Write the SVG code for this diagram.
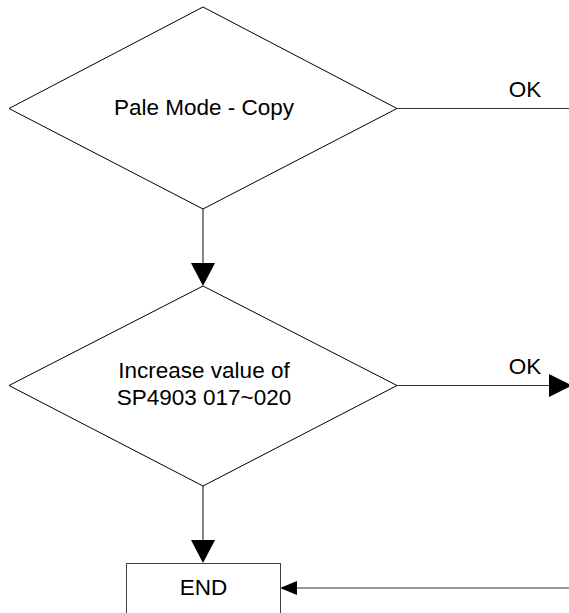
<svg xmlns="http://www.w3.org/2000/svg" width="569" height="613" viewBox="0 0 569 613">
<style>
.shape{fill:#fff;stroke:#000;stroke-width:1}
.box{fill:#fff;stroke:#404040;stroke-width:1}
.line{fill:none;stroke:#333;stroke-width:1.2}
.head{fill:#000;stroke:none}
text{font-family:"Liberation Sans",Arial,sans-serif;font-size:22.5px;fill:#000;text-anchor:middle}
</style>
<rect width="569" height="613" fill="#fff"/>
<g id="connectors">
<line class="line" x1="203" y1="209" x2="203" y2="264"/>
<polygon class="head" points="191,263 215,263 203,286"/>
<line class="line" x1="397" y1="108.5" x2="569" y2="108.5"/>
<text x="525" y="97">OK</text>
<line class="line" x1="397" y1="385.5" x2="552" y2="385.5"/>
<polygon class="head" points="549,374 549,397 572,385.5"/>
<text x="525" y="374">OK</text>
<line class="line" x1="203" y1="486" x2="203" y2="541"/>
<polygon class="head" points="191,540 215,540 203,563"/>
<line class="line" x1="569" y1="588" x2="295" y2="588"/>
<polygon class="head" points="280,588 297,581 297,595"/>
</g>
<g id="decision1">
<polygon class="shape" points="203,7 397,108.5 203,209 9,108.5"/>
<text x="204" y="115">Pale Mode - Copy</text>
</g>
<g id="decision2">
<polygon class="shape" points="203,286 397,385.5 203,486 9,385.5"/>
<text x="204" y="378">Increase value of</text>
<text x="204" y="405">SP4903 017~020</text>
</g>
<g id="end">
<rect class="box" x="126.5" y="563.5" width="154" height="60"/>
<text x="203.5" y="595">END</text>
</g>
</svg>
